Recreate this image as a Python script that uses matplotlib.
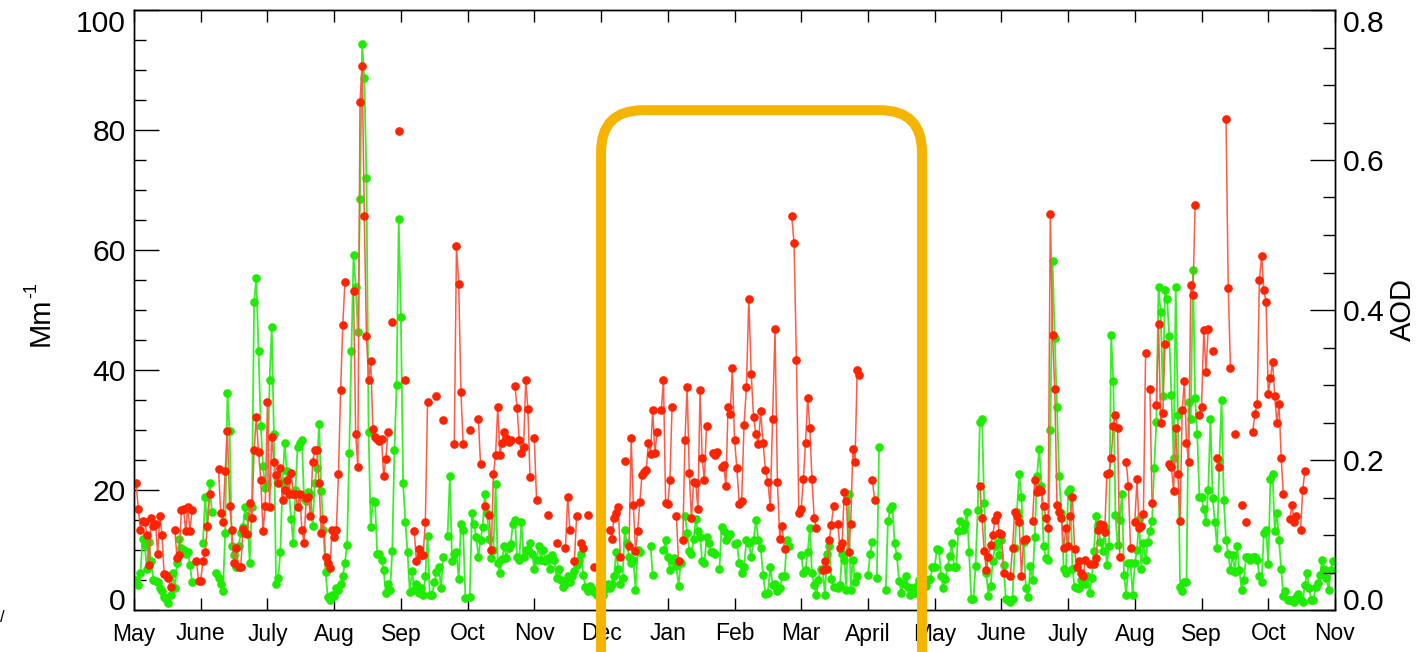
import matplotlib
matplotlib.use('Agg')
import matplotlib.pyplot as plt
import numpy as np
from matplotlib.ticker import MultipleLocator
from matplotlib.patches import FancyBboxPatch

plt.rcParams['font.family'] = ['Liberation Sans', 'DejaVu Sans']

# months on the x axis (May .. Nov of the following year), equal spacing
month_labels = ['May', 'June', 'July', 'Aug', 'Sep', 'Oct', 'Nov', 'Dec', 'Jan', 'Feb',
                'Mar', 'April', 'May', 'June', 'July', 'Aug', 'Sep', 'Oct', 'Nov']
month_days = [31, 30, 31, 31, 30, 31, 30, 31, 31, 28, 31, 30, 31, 30, 31, 31, 30, 31]

# daily values (Mm-1), None = no data
red = (
    [None, 21.2, 16.8, 13.3, 14.9, 14.7, 12.5, 7.5, 15.3, 14.0, 14.3, 9.4, 15.7, 12.5, 6.0, 5.8,
     5.3, 3.8, None, 13.3, 8.6, 9.2, 16.7, 16.9, 13.2, 17.2, 13.2, 16.6, None, 8.2, 4.9]  # May
    + [4.9, 8.2, 9.7, 14.0, 19.4, None, None, None, 23.5, 16.2, 14.7, 23.2, 29.8, 17.4, 13.4,
       7.8, 10.3, 7.1, 7.1, 13.5, 12.8, 12.7, 17.9, 15.4, 26.6, 32.2, 26.3, 21.7, 13.1, 17.3]  # Jun
    + [34.7, 17.2, 28.9, 24.6, 22.5, 21.2, 23.6, 18.3, 20.0, 21.7, 19.4, 22.9, 19.4, 19.4, 17.2,
       19.4, 13.3, 11.2, 18.6, 18.9, 15.7, 24.7, 26.7, 26.6, 21.1, 12.9, 15.1, 8.9, 7.9, 7.0, 13.3]  # Jul
    + [12.1, 13.3, 22.7, 36.6, 47.5, 54.6, None, None, None, 53.2, 29.3, 23.8, 84.7, 90.7, 65.6,
       45.7, 38.3, 41.5, 30.2, 28.8, 28.5, 28.2, 28.5, 22.4, 25.1, 29.6, None, 48.0, None, None, 79.8]  # Aug
    + [None, None, 38.3, None, None, None, 13.1, 8.2, 10.2, 9.2, 9.2, 14.7, 34.7, None, None,
       None, 35.6, None, None, 31.6, None, None, None, None, 27.6, 60.7, 54.4, 36.4, 27.6, None]  # Sep
    + [None, 30.0, None, None, None, 31.9, 24.3, None, 17.3, None, 15.9, 10.0, 22.6, 25.8, 33.9,
       25.8, 27.9, 29.6, 28.6, 28.0, 28.3, None, 37.4, 33.6, 28.3, 26.1, 27.1, 38.4, 33.5, 22.2, None]  # Oct
    + [28.6, 18.3, None, None, None, None, 15.9, None, None, None, 11.1, None, None, None, 10.3,
       18.9, 13.3, None, 8.1, 15.6, None, 11.2, 10.3, None, 15.9, None, None, 7.2, None, None]  # Nov
    + [None, None, None, None, 13.3, 11.9, 15.3, 16.2, 17.2, 8.8, None, 24.8, None, 10.6, 28.6,
       17.5, 9.9, 13.1, 18.0, 22.5, 23.0, 23.4, 27.9, 26.0, 33.4, 26.1, 29.6, None, 33.4, 38.3, 17.9]  # Dec
    + [17.7, 21.7, 33.9, None, 15.7, 8.1, None, 11.7, 28.4, 37.1, 22.8, 15.3, 21.4, 21.1, 16.8,
       36.7, 25.3, 21.6, 30.7, None, None, 26.2, 25.8, 26.4, None, 23.8, 24.2, 20.7, 33.8, 32.7, 40.3]  # Jan
    + [28.4, 23.6, 17.7, 18.1, 30.8, 37.1, 51.9, 39.4, 32.2, 29.3, 27.7, 33.1, 27.8, 23.3, 21.4,
       17.2, 31.9, 46.9, 21.4, 11.9, 14.0, 10.1, None, None, 65.7, 61.1, 41.6, 16.2]  # Feb
    + [16.9, 21.9, 27.8, 35.4, 30.4, 21.8, 15.4, 13.6, None, None, 6.7, 8.1, 6.9, 11.7, 14.2,
       17.3, None, 14.4, 10.3, 11.1, 19.7, 18.1, 9.6, 14.4, 26.9, 24.6, 40.0, 39.2, None, None, None]  # Mar
    + [None, None, 21.7, 18.4] + [None] * 26  # Apr
    + [None] * 21 + [20.7, 15.3, 9.9, 6.6, 8.8, 10.8, 12.5, 15.0, 15.9, 12.8]  # May
    + [12.7, 6.2, None, None, 5.7, 10.4, 16.4, 15.7, 14.6, 5.7, 11.6, 11.8, None, None, 14.9,
       21.7, 19.7, 20.1, 19.9, 17.3, 15.4, 13.6, 66.0, 45.8, 36.8, 17.5, 16.4, 15.4, 10.4, 13.6]  # Jun
    + [10.6, 15.6, 18.8, 10.1, 7.1, 8.1, 6.1, 5.7, 8.4, None, 7.7, None, 7.7, 8.6, 13.3, 14.3,
       14.2, 13.0, 22.7, 22.8, 25.4, 30.6, 32.5, 30.3, 8.9, None, None, 24.7, 20.6, 10.4, None]  # Jul
    + [14.7, 21.8, 13.6, 14.0, 16.0, 42.8, None, 36.8, 17.9, None, 34.2, 47.7, 31.2, 32.8, 44.4,
       None, 24.4, 23.8, 19.9, 30.3, 22.7, 14.9, 33.3, 38.2, 27.9, 24.6, 54.2, 52.5, 67.5, None, 32.5]  # Aug
    + [33.9, 46.7, 39.7, 46.9, None, 43.2, None, 25.4, 23.9, None, None, 81.9, 53.6, 40.4, None,
       29.4, None, None, 17.5, None, 14.6, None, None, 29.7, 32.7, 34.3, 55.0, 59.0, 53.4, 51.3]  # Sep
    + [36.0, 38.6, 41.4, 35.6, 31.2, 34.3, 25.4, 19.3, None, None, 15.1, 17.5, 14.7, 15.6, None,
       13.3, 20.0, 23.2] + [None] * 13  # Oct
)

green = (
    [None, 5.0, 4.2, 6.2, 11.9, 10.8, 6.9, 11.4, 8.1, 5.0, 4.9, 4.7, 3.6, 3.1, 2.2, 1.8, 1.1,
     2.5, 6.1, 3.6, 7.8, 11.8, 10.3, 10.0, 9.4, 9.7, 7.5, 4.6, None, None, None]  # May
    + [None, 11.1, 18.8, 13.9, 21.2, 16.4, None, 6.2, 5.3, 4.4, 3.1, 12.9, 36.2, 29.8, 10.6,
       9.2, 7.2, 10.6, 12.8, 13.9, 17.1, 15.7, 7.9, 17.1, 51.4, 55.3, 43.2, 30.7, 24.0, 20.4]  # Jun
    + [21.0, 38.3, 47.1, 29.4, 4.4, 5.3, 9.7, 21.1, 27.9, 23.1, 19.7, 15.1, 11.2, 20.0, 27.1,
       27.9, 28.4, 18.6, 18.2, 19.7, 19.4, 14.0, 21.2, 23.6, 31.0, 19.9, 13.3, 6.4, 2.2, 1.7, 2.5]  # Jul
    + [2.4, 3.7, 3.4, 4.3, 5.6, 7.9, 10.8, 26.1, 43.1, 59.2, 53.9, 46.3, 68.5, 94.4, 88.7, 72.0,
       29.6, 13.8, 18.1, 18.0, 9.4, 9.4, 8.4, 6.7, 2.8, 4.3, 3.4, 9.9, 26.6, 37.5, 65.1]  # Aug
    + [48.8, 21.2, 14.7, 9.6, 3.0, 6.5, 3.4, 4.3, 2.8, 3.7, 2.5, 5.6, 12.3, 2.5, 2.5, 4.6, 6.3,
       7.1, 3.7, 8.8, None, 12.4, 22.3, 8.2, 9.3, 9.6, 5.1, 14.4, 13.3, 2.0]  # Sep
    + [None, 2.2, 16.2, 14.3, 12.2, 8.9, 11.7, 13.9, 19.3, 16.1, 11.9, 8.6, 10.0, 21.0, 7.8, 6.2,
       8.5, 10.6, 8.7, 10.3, 11.0, 14.3, 15.0, 8.9, 8.3, 14.7, 8.9, 10.0, 10.0, 11.2, 9.4]  # Oct
    + [6.9, 8.3, 10.6, 8.3, 10.0, 8.1, 8.6, 6.8, 9.2, 8.3, 5.3, 6.9, 5.0, 3.9, 4.4, 5.6, 4.7,
       5.7, 6.5, 7.5, 8.3, 9.4, 5.8, 3.9, 3.1, 4.0, 3.5, 3.0, 2.5, 3.1]  # Nov
    + [3.0, 2.5, 3.5, 4.4, 3.6, 4.4, 5.6, 9.6, 6.9, 4.4, 5.3, 13.3, 11.1, 8.9, 7.8, 8.3, 3.3,
       10.0, 9.7, None, None, None, None, 10.7, 5.8, None, None, None, None, 10.0, 11.6]  # Dec
    + [8.9, 6.7, 8.3, 8.6, 7.3, 4.0, 7.8, None, 15.6, 12.9, 9.9, 9.3, 11.9, 15.1, 13.1, 12.2,
       8.1, 7.8, 12.1, 11.1, 9.7, 9.6, 9.3, None, 6.8, 13.9, 13.1, 11.7, 12.3, 12.7, None]  # Jan
    + [11.0, 11.1, 7.8, 6.2, 7.2, 11.6, 11.1, 8.9, 11.6, 15.0, 11.6, 10.3, 5.8, 2.7, 2.8, 7.2,
       4.2, 4.3, 3.1, 3.6, 5.6, 5.6, 11.6, 10.6, None, None, None, None]  # Feb
    + [9.2, 6.2, 6.7, 9.7, 13.6, 6.1, 4.2, 2.5, 5.0, 6.8, 6.7, 2.5, 9.4, 10.6, 5.1, 3.9, None,
       3.6, 4.2, 9.4, 8.4, 3.4, 19.3, 3.4, 8.4, 4.6, 5.6, None, None, None, None]  # Mar
    + [5.8, 9.4, 11.4, None, 5.3, 27.2, None, None, 3.3, 14.9, 16.8, 17.3, 11.1, 9.0, 4.9, 2.8,
       4.3, 5.7, 3.9, 2.5, 3.6, 2.8, 4.0, 5.0, 5.4, 4.5, 4.0, 5.0, 5.1, 7.1]  # Apr
    + [7.2, 10.1, 10.0, 5.6, 3.6, 5.1, 7.2, 9.0, 11.1, 7.2, 7.2, 13.2, 14.9, 13.3, 14.4, 16.4,
       9.6, 1.9, 1.9, 7.3, 16.6, 31.4, 31.9, 17.9, 6.1, 2.3, 4.0, 8.1, 10.6, 11.1, 9.2]  # May
    + [11.7, 7.5, 1.9, 1.7, 1.4, 1.9, 10.3, 16.4, 22.7, 18.8, 11.4, 3.6, 2.1, 7.3, 5.0, 12.2,
       22.3, 26.9, 20.6, 10.6, 8.6, 8.3, 30.0, 58.2, 45.3, 33.9, 22.3, 16.2, 6.9, 6.1]  # Jun
    + [19.7, 20.1, 6.9, 3.9, 3.6, 3.6, 5.0, 5.6, 4.4, 5.6, 2.8, 5.3, 9.9, 15.7, 14.2, 11.4, 9.9,
       13.6, 7.5, 10.6, 45.8, 38.1, 15.8, 10.8, 15.0, 19.4, 5.8, 2.5, 7.8, 7.8, 2.5]  # Jul
    + [7.8, 10.0, 15.1, 6.9, 11.1, 8.3, 11.4, 13.1, 14.9, 23.6, 31.4, 53.8, 49.7, 35.7, 53.4,
       51.8, 45.7, 35.9, 25.3, 53.8, 32.5, 3.9, 3.1, 4.7, 4.7, 34.7, 31.8, 56.6, 35.4, 29.4, 18.9]  # Aug
    + [18.8, 16.8, 14.7, 20.0, 31.9, 18.6, 14.6, 10.3, 25.0, 35.0, 18.4, 11.7, 9.3, 6.7, 9.2,
       6.4, 10.6, 6.6, 3.4, 5.0, 8.8, 8.9, 8.4, 8.8, 8.9, 8.4, 5.6, 4.7, 12.8, 13.4]  # Sep
    + [7.7, 21.9, 22.7, 13.1, 16.2, 11.6, 6.8, 2.3, 3.1, 1.6, 1.7, 1.7, 1.4, 2.1, 2.7, 1.7, 1.4,
       4.2, 6.1, 3.6, 1.7, 1.7, 3.8, 4.5, 5.8, 8.4, 6.9, 5.4, 3.3, 6.7, 8.1]  # Oct
)

left_ticks = [0, 20, 40, 60, 80, 100]
right_ticks = [0.0, 0.2, 0.4, 0.6, 0.8]

# highlighted winter period (Dec -> late April), top of the box in Mm-1
box_start, box_end, box_top = 7.0, 11.81, 83.3

n_days = sum(month_days)
assert len(red) == n_days, len(red)
assert len(green) == n_days, len(green)

x = np.concatenate([m + np.arange(n) / n for m, n in enumerate(month_days)])
red = np.array(red, dtype=float)
green = np.array(green, dtype=float)

W, H = 1421, 652
fig = plt.figure(figsize=(W / 100, H / 100), dpi=100)
ax = fig.add_axes([134 / W, 42 / H, 1201 / W, 600 / H])

ax.plot(x, green, '-o', color='#3AEE2A', lw=1.3, ms=5.2,
        mfc='#1EEB00', mec='#1EEB00', zorder=3)
ax.plot(x, red, '-o', color='#FF5A45', lw=1.1, ms=5.2,
        mfc='#FF2300', mec='#FF2300', zorder=4)

ax.set_xlim(0, 18)
ax.set_ylim(0, 100)
ax.set_xticks(range(len(month_labels)))
ax.set_xticklabels(month_labels)
ax.set_yticks(left_ticks)
ax.set_yticklabels([str(v) for v in left_ticks])
ax.yaxis.set_minor_locator(MultipleLocator(5))

ax.tick_params(axis='x', direction='in', length=8.6, width=1, top=True,
               labelsize=16.5, pad=9)
ax.tick_params(axis='y', which='major', direction='in', length=18, width=1,
               labelsize=21.6, pad=6, right=False)
ax.tick_params(axis='y', which='minor', direction='in', length=8.6, width=1, right=False)
for s in ax.spines.values():
    s.set_linewidth(1.0)

ax2 = ax.twinx()
ax2.set_ylim(0, 0.8)
ax2.set_yticks(right_ticks)
ax2.set_yticklabels(['%.1f' % v for v in right_ticks])
ax2.yaxis.set_minor_locator(MultipleLocator(0.05))
ax2.tick_params(axis='y', which='major', direction='in', length=18, width=1,
                labelsize=21.6, pad=6)
ax2.tick_params(axis='y', which='minor', direction='in', length=8.6, width=1)
for s in ax2.spines.values():
    s.set_linewidth(1.0)

# end labels sit inside the axis range, as in the original
for a in (ax, ax2):
    labs = a.get_yticklabels()
    labs[0].set_va('baseline')
    labs[-1].set_va('top')

fig.text(41 / W, 1 - 322 / H, 'Mm', rotation=90, fontsize=21,
         ha='center', va='center')
fig.text(32 / W, 1 - 290 / H, '-1', rotation=90, fontsize=13,
         ha='center', va='center')
fig.text(1403 / W, 1 - 310 / H, 'AOD', rotation=90, fontsize=21,
         ha='center', va='center')
fig.text(0.0, 1 - 618 / H, '/', fontsize=12, ha='left', va='center')

# rounded highlight box, drawn in pixel space so the corners stay round
fig.canvas.draw()
(xl, yt), (xr, _) = ax.transData.transform([(box_start, box_top), (box_end, box_top)])
over = fig.add_axes([0, 0, 1, 1], zorder=10)
over.set_xlim(0, W)
over.set_ylim(0, H)
over.axis('off')
over.patch.set_alpha(0)
over.add_patch(FancyBboxPatch((xl, -80), xr - xl, yt + 80,
                              boxstyle='round,pad=0,rounding_size=42',
                              fill=False, ec='#F5B400', lw=7.2))

fig.savefig('out.png', dpi=100)
